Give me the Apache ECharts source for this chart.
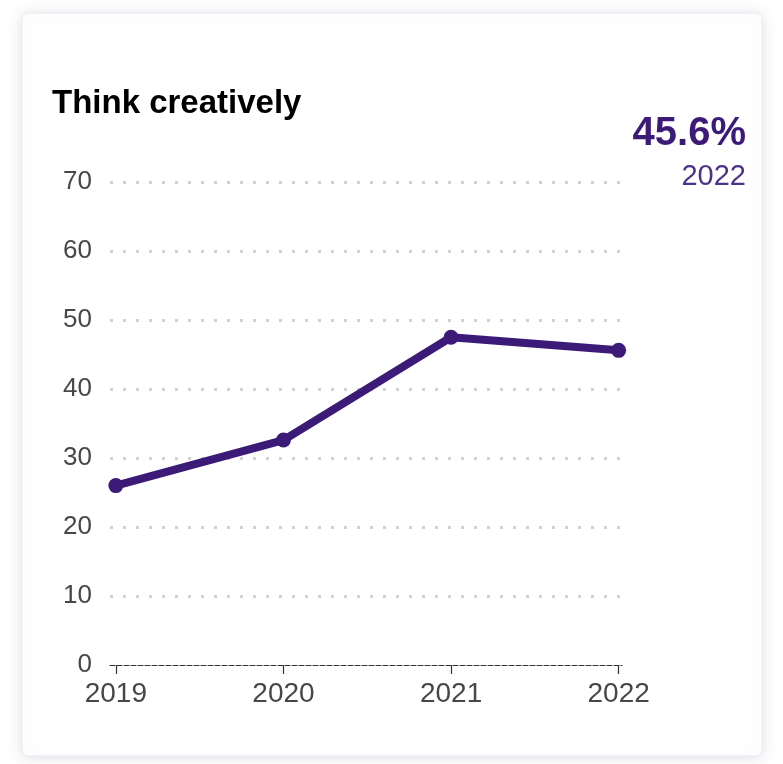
<!DOCTYPE html>
<html>
<head>
<meta charset="utf-8">
<title>Think creatively</title>
<script src="https://cdn.jsdelivr.net/npm/echarts@6/dist/echarts.min.js"></script>
<style>
  html, body { margin: 0; padding: 0; background: #ffffff; }
  #chart { width: 783px; height: 764px; }
</style>
</head>
<body>
<div id="chart"></div>
<script>
// Share of respondents who think creatively, by survey year
const years = [2019, 2020, 2021, 2022];
const values = [26.0, 32.6, 47.5, 45.6];
const yTicks = [0, 10, 20, 30, 40, 50, 60, 70];

const titleText = 'Think creatively';
const latestIndex = values.length - 1;
const latestValue = values[latestIndex];
const latestYear = years[latestIndex];

const purple = '#3b1a78';
const labelGrey = '#474747';
const font = '"Liberation Sans", Arial, Helvetica, sans-serif';

const chart = echarts.init(document.getElementById('chart'), null, { renderer: 'canvas' });

chart.setOption({
  animation: false,
  backgroundColor: '#ffffff',
  graphic: [
    {
      type: 'rect',
      z: -10,
      shape: { x: 22, y: 13, width: 740, height: 743, r: 6 },
      style: {
        fill: '#ffffff',
        stroke: '#ececf1',
        lineWidth: 1,
        shadowBlur: 14,
        shadowColor: 'rgba(120,115,150,0.22)',
        shadowOffsetX: 0,
        shadowOffsetY: 1
      },
      silent: true
    },
    {
      type: 'text',
      x: 52,
      y: 104,
      style: {
        text: titleText,
        fill: '#000000',
        font: 'bold 33px ' + font,
        textVerticalAlign: 'middle',
        textAlign: 'left'
      }
    },
    {
      type: 'text',
      x: 746,
      y: 134,
      style: {
        text: latestValue.toFixed(1) + '%',
        fill: purple,
        font: 'bold 40px ' + font,
        textAlign: 'right',
        textVerticalAlign: 'middle'
      }
    },
    {
      type: 'text',
      x: 746,
      y: 177,
      style: {
        text: String(latestYear),
        fill: '#4a3388',
        font: '29px ' + font,
        textAlign: 'right',
        textVerticalAlign: 'middle'
      }
    }
  ],
  grid: {
    left: 110,
    right: 161,
    top: 182,
    bottom: 99,
    containLabel: false
  },
  xAxis: {
    type: 'value',
    min: 2018.965,
    max: 2022.02,
    axisLine: {
      show: true,
      lineStyle: { color: '#333333', width: 1.2, type: [5, 2] }
    },
    axisTick: {
      show: true,
      customValues: years,
      length: 9,
      lineStyle: { color: '#333333', width: 1.2 }
    },
    axisLabel: {
      customValues: years,
      color: labelGrey,
      fontSize: 28,
      fontFamily: font,
      margin: 15,
      formatter: v => String(v)
    },
    splitLine: { show: false }
  },
  yAxis: {
    type: 'value',
    min: yTicks[0],
    max: yTicks[yTicks.length - 1],
    interval: 10,
    axisLine: { show: false },
    axisTick: { show: false },
    axisLabel: {
      color: labelGrey,
      fontSize: 26,
      fontFamily: font,
      margin: 18
    },
    splitLine: {
      show: true,
      lineStyle: { color: '#d2d2d2', width: 3, type: [3, 10] },
      showMinLine: false
    }
  },
  series: [
    {
      type: 'line',
      data: years.map((y, i) => [y, values[i]]),
      symbol: 'circle',
      symbolSize: 15,
      lineStyle: { color: purple, width: 8 },
      itemStyle: { color: purple },
      z: 5
    }
  ]
});
</script>
</body>
</html>
